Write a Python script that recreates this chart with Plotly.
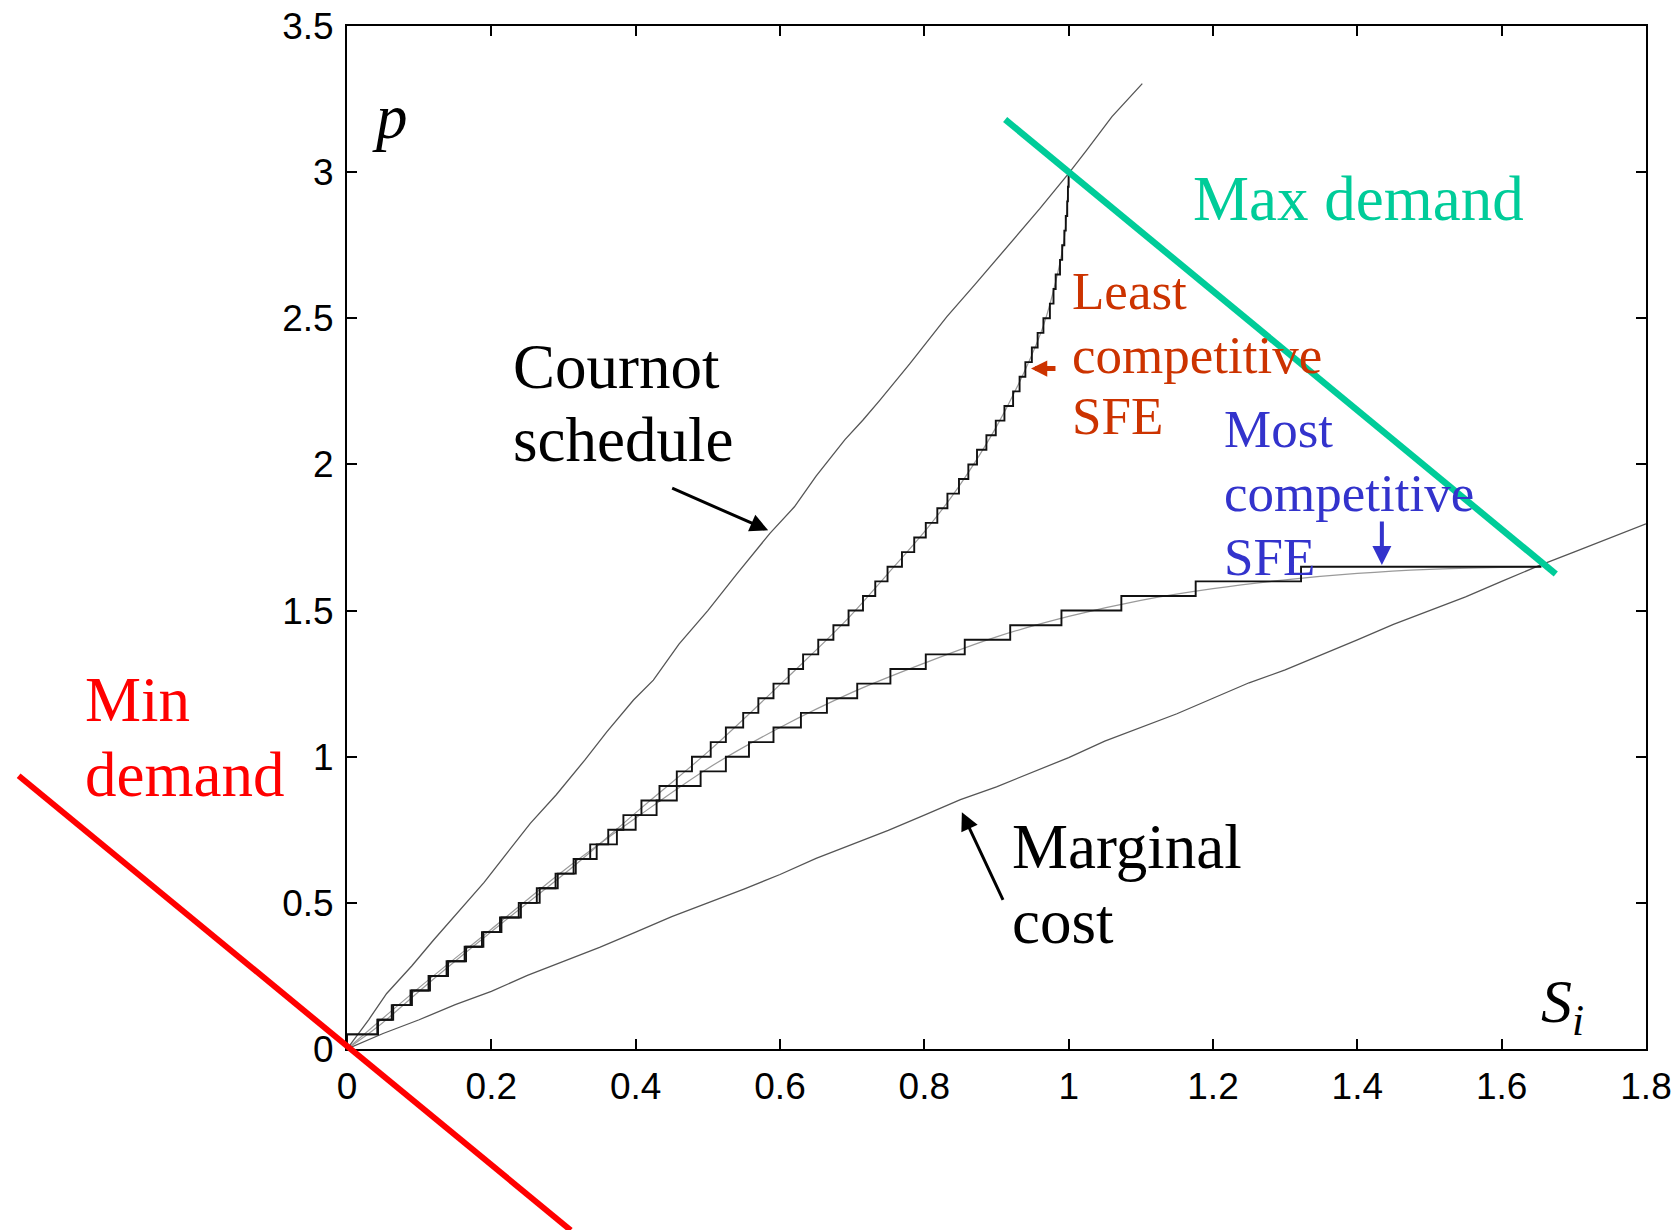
import plotly.graph_objects as go

W, H = 1680, 1230

# ---------------- data ----------------
x_range = [0, 1.8]
y_range = [0, 3.5]
x_ticks = [0, 0.2, 0.4, 0.6, 0.8, 1.0, 1.2, 1.4, 1.6, 1.8]
y_ticks = [0, 0.5, 1.0, 1.5, 2.0, 2.5, 3.0, 3.5]

# Cournot schedule
cournot_S = [0, 0.03, 0.055, 0.09, 0.12, 0.16, 0.19, 0.22, 0.254, 0.29, 0.33, 0.36,
             0.397, 0.4245, 0.46, 0.5, 0.54, 0.586, 0.62, 0.65, 0.69, 0.715,
             0.7385, 0.78, 0.831, 0.87, 0.923, 0.96, 1.0, 1.025, 1.06, 1.102]
cournot_p = [0, 0.10, 0.19, 0.285, 0.373, 0.485, 0.57, 0.665, 0.772, 0.87, 0.99, 1.085,
             1.194, 1.262, 1.385, 1.50, 1.625, 1.764, 1.855, 1.96, 2.085, 2.152,
             2.22, 2.345, 2.505, 2.615, 2.768, 2.875, 2.996, 3.075, 3.19, 3.303]

# Marginal cost
mc_S = [0, 0.05, 0.1, 0.15, 0.2, 0.25, 0.3, 0.35, 0.4, 0.45, 0.5, 0.55, 0.6, 0.65,
        0.7, 0.75, 0.8, 0.85, 0.9, 0.95, 1.0, 1.05, 1.1, 1.15, 1.2, 1.25, 1.3,
        1.35, 1.4, 1.45, 1.5, 1.55, 1.6, 1.65, 1.7, 1.75, 1.8]
mc_p = [0, 0.053, 0.10, 0.152, 0.197, 0.252, 0.30, 0.348, 0.40, 0.453, 0.50, 0.547,
        0.597, 0.652, 0.70, 0.748, 0.80, 0.853, 0.897, 0.947, 0.997, 1.053, 1.10,
        1.147, 1.20, 1.253, 1.297, 1.348, 1.40, 1.453, 1.50, 1.547, 1.60, 1.652,
        1.70, 1.748, 1.797]

# Least competitive SFE (step schedule: start of each price step)
least_step_S = [0, 0.000, 0.042, 0.062, 0.088, 0.113, 0.138, 0.163, 0.187, 0.212,
                0.238, 0.263, 0.289, 0.314, 0.337, 0.362, 0.383, 0.408, 0.433,
                0.457, 0.478, 0.504, 0.525, 0.549, 0.570, 0.591, 0.612, 0.632,
                0.653, 0.674, 0.695, 0.715, 0.732, 0.749, 0.769, 0.786, 0.802,
                0.818, 0.832, 0.848, 0.861, 0.873, 0.886, 0.899, 0.911, 0.923,
                0.932, 0.940, 0.949, 0.957, 0.965, 0.974, 0.979, 0.982, 0.988,
                0.991, 0.994, 0.996, 0.998, 0.999, 1.000]
least_step_p = [0, 0.05, 0.10, 0.15, 0.20, 0.25, 0.30, 0.35, 0.40, 0.45, 0.50,
                0.55, 0.60, 0.65, 0.70, 0.75, 0.80, 0.85, 0.90, 0.95, 1.00,
                1.05, 1.10, 1.15, 1.20, 1.25, 1.30, 1.35, 1.40, 1.45, 1.50,
                1.55, 1.60, 1.65, 1.70, 1.75, 1.80, 1.85, 1.90, 1.95, 2.00,
                2.05, 2.10, 2.15, 2.20, 2.25, 2.30, 2.35, 2.40, 2.45, 2.50,
                2.55, 2.60, 2.65, 2.70, 2.75, 2.80, 2.85, 2.90, 2.95, 3.00]
# Least competitive SFE (smooth)
least_S = [0, 0.042, 0.113, 0.212, 0.314, 0.408, 0.504, 0.612, 0.695, 0.749,
           0.802, 0.848, 0.899, 0.940, 0.965, 0.982, 0.994, 1.0]
least_p = [0, 0.075, 0.225, 0.425, 0.625, 0.825, 1.025, 1.275, 1.475, 1.625,
           1.775, 1.925, 2.125, 2.325, 2.475, 2.625, 2.775, 3.0]

# Most competitive SFE (step schedule)
most_step_S = [0, 0.000, 0.043, 0.064, 0.090, 0.115, 0.140, 0.165, 0.189, 0.214,
               0.241, 0.267, 0.292, 0.317, 0.346, 0.374, 0.400, 0.429, 0.457,
               0.490, 0.525, 0.557, 0.591, 0.629, 0.665, 0.707, 0.753, 0.802,
               0.856, 0.919, 0.990, 1.073, 1.176, 1.322, 1.655]
most_step_p = [0, 0.05, 0.10, 0.15, 0.20, 0.25, 0.30, 0.35, 0.40, 0.45, 0.50,
               0.55, 0.60, 0.65, 0.70, 0.75, 0.80, 0.85, 0.90, 0.95, 1.00,
               1.05, 1.10, 1.15, 1.20, 1.25, 1.30, 1.35, 1.40, 1.45, 1.50,
               1.55, 1.60, 1.65, 1.65]
# Most competitive SFE (smooth)
most_S = [0, 0.1, 0.2, 0.3, 0.4, 0.5, 0.6, 0.7, 0.8, 0.9, 1.0, 1.1, 1.2, 1.3,
          1.4, 1.5, 1.6, 1.655]
most_p = [0, 0.21, 0.41, 0.61, 0.79, 0.96, 1.10, 1.22, 1.32, 1.41, 1.48, 1.535,
          1.575, 1.605, 1.627, 1.641, 1.648, 1.65]

# Demand lines
max_demand_S = [0.912, 1.675]
max_demand_p = [3.18, 1.625]
min_demand_S = [-0.455, 0.31]
min_demand_p = [0.935, -0.62]

# ---------------- colours / fonts ----------------
TEAL = "#00CC99"
RED = "#FF0000"
ORANGE = "#CC3300"
BLUE = "#3333CC"
SERIF = "Liberation Serif, Times New Roman, serif"
SANS = "Liberation Sans, Arial, sans-serif"

# plot area in pixels
L, R, T, B = 347, 1646, 26, 1049
xdom = [L / W, R / W]
ydom = [(H - B) / H, (H - T) / H]

# second axis pair covering the whole figure (so the min-demand line can run outside the frame)
ppx = (R - L) / (x_range[1] - x_range[0])
ppy = (B - T) / (y_range[1] - y_range[0])
x2_range = [x_range[0] - L / ppx, x_range[1] + (W - R) / ppx]
y2_range = [y_range[0] - (H - B) / ppy, y_range[1] + T / ppy]

fig = go.Figure()

def line(xs, ys, color, width, shape="linear", axes=("x", "y")):
    fig.add_trace(go.Scatter(x=xs, y=ys, mode="lines", line=dict(color=color, width=width, shape=shape),
                             xaxis=axes[0], yaxis=axes[1], showlegend=False, hoverinfo="skip"))

line(least_S, least_p, "#9a9a9a", 1.2, "spline")
line(most_S, most_p, "#9a9a9a", 1.2, "spline")
line(cournot_S, cournot_p, "#555555", 1.3)
line(mc_S, mc_p, "#555555", 1.3)
line(least_step_S, least_step_p, "#111111", 1.9, "hv")
line(most_step_S, most_step_p, "#111111", 1.9, "hv")
line(max_demand_S, max_demand_p, TEAL, 6.5)
line(min_demand_S, min_demand_p, RED, 6, axes=("x2", "y2"))

def txt(x, y, s, color="black", size=63, italic=False, ref=("x", "y")):
    fig.add_annotation(x=x, y=y, xref=ref[0], yref=ref[1], text=s, showarrow=False,
                       xanchor="left", yanchor="middle",
                       font=dict(family=SERIF, size=size, color=color,
                                 style="italic" if italic else "normal"))

def arrow(x0, y0, x1, y1, color, width, size):
    fig.add_annotation(x=x1, y=y1, ax=x0, ay=y0, xref="x", yref="y", axref="x", ayref="y",
                       text="", showarrow=True, arrowhead=2, arrowsize=size, arrowwidth=width,
                       arrowcolor=color, standoff=0, startstandoff=0)

txt(0.032, 3.188, "p", italic=True)
txt(1.652, 0.150, "<i>S</i><sub><i>i</i></sub>", size=62)
txt(0.227, 2.333, "Cournot")
txt(0.227, 2.083, "schedule")
txt(1.1695, 2.909, "Max demand", TEAL)
txt(1.002, 2.595, "Least", ORANGE, 53)
txt(1.002, 2.375, "competitive", ORANGE, 53)
txt(1.002, 2.166, "SFE", ORANGE, 53)
txt(1.213, 2.122, "Most", BLUE, 53)
txt(1.213, 1.902, "competitive", BLUE, 53)
txt(1.213, 1.683, "SFE", BLUE, 53)
txt(-0.3665, 1.194, "Min", RED, ref=("x2", "y2"))
txt(-0.3665, 0.937, "demand", RED, ref=("x2", "y2"))
txt(0.919, 0.691, "Marginal")
txt(0.919, 0.434, "cost")

arrow(0.4485, 1.921, 0.5836, 1.7745, "black", 3, 1.2)
arrow(0.910, 0.505, 0.852, 0.81, "black", 3, 1.2)
arrow(0.9838, 2.328, 0.9478, 2.328, ORANGE, 5, 0.65)
arrow(1.434, 1.81, 1.434, 1.656, BLUE, 4, 0.95)

axis_common = dict(showline=True, linecolor="black", linewidth=2, mirror="ticks",
                   ticks="inside", ticklen=10, tickwidth=2, tickcolor="black",
                   showgrid=False, zeroline=False, automargin=False,
                   tickfont=dict(family=SANS, size=37, color="black"))

fig.update_layout(
    width=W, height=H, autosize=False,
    margin=dict(l=0, r=0, t=0, b=0, pad=0, autoexpand=False),
    paper_bgcolor="white", plot_bgcolor="rgba(0,0,0,0)",
    xaxis=dict(domain=xdom, range=x_range, tickvals=x_ticks, ticklabelstandoff=4,
               anchor="y", **axis_common),
    yaxis=dict(domain=ydom, range=y_range, tickvals=y_ticks, ticklabelstandoff=4,
               anchor="x", **axis_common),
    xaxis2=dict(domain=[0, 1], range=x2_range, anchor="y2", visible=False, automargin=False),
    yaxis2=dict(domain=[0, 1], range=y2_range, anchor="x2", visible=False, automargin=False),
)

fig.write_html("out.html", include_plotlyjs=True, full_html=True,
               config={"displayModeBar": False, "responsive": False},
               post_script="document.body.style.margin='0';")
